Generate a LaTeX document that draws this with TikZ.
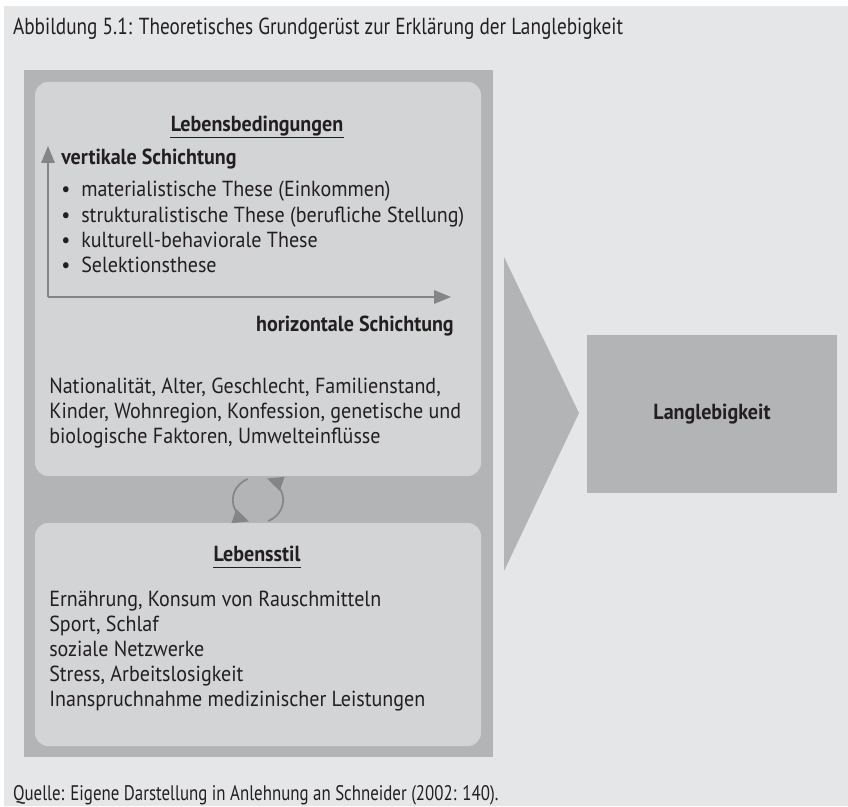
\documentclass[tikz,border=0pt]{standalone}
\usepackage{fontspec}
\setmainfont{PT Sans}[FakeStretch=0.92]
\newfontfamily\capfont{PT Sans}[FakeStretch=0.8]
\newfontfamily\titlefont{PT Sans}[FakeStretch=0.83]
\usetikzlibrary{arrows.meta}

\definecolor{bgGray}{HTML}{E5E6E8}
\definecolor{frameGray}{HTML}{B3B4B6}
\definecolor{panelGray}{HTML}{D3D4D6}
\definecolor{axisGray}{HTML}{848587}
\definecolor{inkGray}{HTML}{231F20}

\tikzset{
	panel/.style={fill=panelGray, rounded corners=0.33cm},
	bodytext/.style={anchor=base west, inner sep=0, text=inkGray, font=\fontsize{15.5}{18}\selectfont},
	headtext/.style={bodytext, anchor=base, font=\fontsize{15.5}{18}\selectfont\bfseries},
	captext/.style={anchor=base west, inner sep=0, text=inkGray, font=\capfont\fontsize{15}{18}\selectfont},
	axisline/.style={draw=axisGray, line width=1.4pt, -{Triangle[length=0.42cm,width=0.33cm]}},
	turnarrow/.style={draw=axisGray, line width=1.2pt, -{Triangle[length=0.4cm,width=0.36cm]}},
	headrule/.style={draw=inkGray, line width=0.7pt}
}

\begin{document}
\begin{tikzpicture}
			%%%%% START %%%%%
			\useasboundingbox (0, 0) rectangle (21.2, 20.15);
			\fill[bgGray] (0.1, 0) rectangle (21.2, 20.0);
			
			\node[captext, font=\titlefont\fontsize{16.5}{19}\selectfont] (title) at (0.32, 19.275) {Abbildung 5.1: Theoretisches Grundgerüst zur Erklärung der Langlebigkeit};
			
			\fill[frameGray] (0.6, 1.225) rectangle (12.325, 18.4);
			\fill[panel] (0.875, 8.25) rectangle (12.025, 18.1);
			\fill[panel] (0.875, 1.5) rectangle (12.025, 7.075);
			
			\fill[frameGray] (12.6, 13.725) -- (14.475, 9.825) -- (12.6, 5.875) -- cycle;
			\node[fill=frameGray, minimum width=6.25cm, minimum height=3.95cm, inner sep=0, text=inkGray,
				font=\fontsize{15.5}{18}\selectfont\bfseries] (longevity) at (17.8, 9.8) {Langlebigkeit};
			
			% Lebensbedingungen
			\node[headtext] (conditions) at (6.425, 16.85) {Lebensbedingungen};
			\draw[headrule] ([yshift=-0.15cm]conditions.base west) -- ([yshift=-0.15cm]conditions.base east);
			
			\coordinate (origin) at (1.2, 12.725);
			\coordinate (vtop) at (1.2, 16.5);
			\coordinate (hend) at (11.275, 12.725);
			\draw[axisline] (origin) -- (vtop);
			\draw[axisline] (origin) -- (hend);
			
			\node[headtext, anchor=base west] (vertical) at (1.525, 16.025) {vertikale Schichtung};
			\foreach \thesis [count=\i] in {materialistische These (Einkommen), strukturalistische These (berufliche Stellung), kulturell-behaviorale These, Selektionsthese}
				\node[bodytext] (thesis\i) at (1.525, {15.225-0.633*(\i-1)}) {\makebox[0.5cm][l]{\textbullet}\thesis};
			\node[headtext, anchor=base east] (horizontal) at (11.35, 11.85) {horizontale Schichtung};
			
			\foreach \factor [count=\i] in {{Nationalität, Alter, Geschlecht, Familienstand,}, {Kinder, Wohnregion, Konfession, genetische und}, {biologische Faktoren, Umwelteinflüsse}}
				\node[bodytext] (factor\i) at (1.225, {10.3-0.625*(\i-1)}) {\factor};
			
			% Wechselwirkung
			\coordinate (loopc) at (6.45, 7.65);
			\draw[turnarrow] ([shift={(114:0.63cm and 0.575cm)}]loopc) arc[start angle=114, end angle=249, x radius=0.63cm, y radius=0.575cm];
			\draw[turnarrow] ([shift={(-66:0.63cm and 0.575cm)}]loopc) arc[start angle=-66, end angle=69, x radius=0.63cm, y radius=0.575cm];
			
			% Lebensstil
			\node[headtext] (lifestyle) at (6.425, 6.125) {Lebensstil};
			\draw[headrule] ([yshift=-0.15cm]lifestyle.base west) -- ([yshift=-0.15cm]lifestyle.base east);
			\foreach \habit [count=\i] in {{Ernährung, Konsum von Rauschmitteln}, {Sport, Schlaf}, soziale Netzwerke, {Stress, Arbeitslosigkeit}, Inanspruchnahme medizinischer Leistungen}
				\node[bodytext] (habit\i) at (1.225, {5.0-0.631*(\i-1)}) {\habit};
			
			\node[captext] (source) at (0.32, 0.15) {Quelle: Eigene Darstellung in Anlehnung an Schneider (2002: 140).};
			%%%%% END %%%%%
\end{tikzpicture}
\end{document}
